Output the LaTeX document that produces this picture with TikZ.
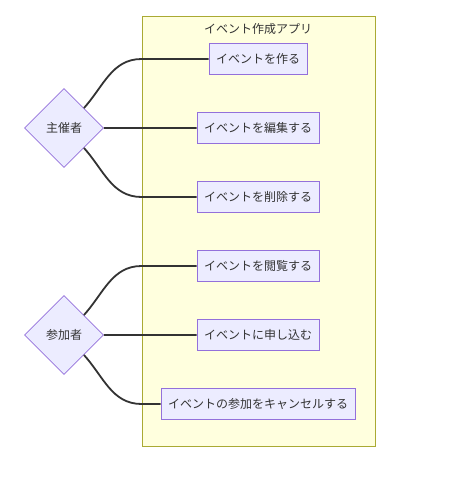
\documentclass[tikz,border=0pt]{standalone}
\usepackage{fontspec}
\setmainfont{Noto Sans CJK JP}
\usetikzlibrary{positioning,shapes.geometric}
\definecolor{boxfill}{HTML}{ECECFF}
\definecolor{boxline}{HTML}{9370DB}
\definecolor{appfill}{HTML}{FFFFDE}
\definecolor{appline}{HTML}{AAAA33}
\definecolor{ink}{HTML}{333333}

\begin{document}
\begin{tikzpicture}[x=1pt,y=-1pt,
        usecase/.style={draw=boxline, fill=boxfill, text=ink, line width=0.8pt, minimum height=31pt, inner xsep=7pt, inner ysep=0pt, font=\fontsize{12}{14}\selectfont},
        actor/.style={diamond, draw=boxline, fill=boxfill, text=ink, line width=0.8pt, minimum width=79pt, minimum height=79pt, inner sep=0pt, font=\fontsize{12}{14}\selectfont},
        edge/.style={draw=ink, line width=1.8pt}]
        \useasboundingbox (0,0) rectangle (474,482);

        \node[draw=appline, fill=appfill, line width=0.8pt, minimum width=233pt, minimum height=430pt] (app) at (258.5,231) {};
        \node[text=ink, font=\fontsize{12}{14}\selectfont] (apptitle) at (258,29) {イベント作成アプリ};

        \node[usecase] (create) at (258,59) {イベントを作る};
        \node[usecase, below = 37.2pt of create] (edit) {イベントを編集する};
        \node[usecase, below = 37.2pt of edit] (delete) {イベントを削除する};
        \node[usecase, below = 37.2pt of delete] (view) {イベントを閲覧する};
        \node[usecase, below = 37.2pt of view] (apply) {イベントに申し込む};
        \node[usecase, below = 37.2pt of apply] (cancel) {イベントの参加をキャンセルする};

        \node[actor] (host) at (64,128) {主催者};
        \node[actor] (guest) at (64,335) {参加者};

        \draw[edge] (host.north east) to[out=48,in=180] (create.west -| app.west) -- (create.west);
        \draw[edge] (host.east) -- (edit.west);
        \draw[edge] (host.south east) to[out=-48,in=180] (delete.west -| app.west) -- (delete.west);

        \draw[edge] (guest.north east) to[out=48,in=180] (view.west -| app.west) -- (view.west);
        \draw[edge] (guest.east) -- (apply.west);
        \draw[edge] (guest.south east) to[out=-48,in=180] (cancel.west -| app.west) -- (cancel.west);
    \end{tikzpicture}
\end{document}
